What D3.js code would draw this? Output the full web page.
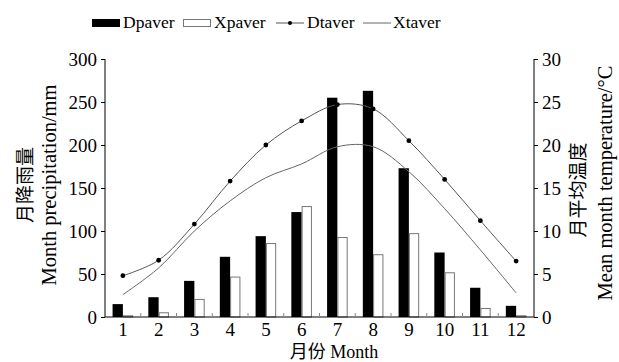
<!DOCTYPE html>
<html lang="zh">
<head>
  <meta charset="UTF-8" />
  <title>月降雨量与月平均温度</title>
  <script src="https://cdn.jsdelivr.net/npm/d3@7"></script>
  <style>
    html, body { margin: 0; padding: 0; background: #fff; }
    svg text { font-family: "Liberation Serif", "Noto Sans CJK SC", serif; fill: #000; }
  </style>
</head>
<body>
  <div id="chart"></div>
  <script>
    // data
    const months = ["1", "2", "3", "4", "5", "6", "7", "8", "9", "10", "11", "12"];
    const dpaver = [15, 23, 42, 70, 94, 122, 255, 263, 173, 75, 34, 13];
    const xpaver = [2, 5.5, 21, 47, 86, 129, 93, 73, 97.5, 52, 10.5, 2];
    const dtaver = [4.8, 6.6, 10.8, 15.8, 20.0, 22.8, 24.7, 24.2, 20.5, 16.0, 11.2, 6.5];
    const xtaver = [2.6, 5.7, 10.0, 13.5, 16.2, 17.8, 19.8, 19.8, 16.9, 12.6, 7.8, 2.8];
    const leftTicks = [0, 50, 100, 150, 200, 250, 300];
    const rightTicks = [0, 5, 10, 15, 20, 25, 30];

    const W = 619, H = 362;
    const margin = {top: 59, right: 85, bottom: 45, left: 105};
    const x0 = margin.left, x1 = W - margin.right;
    const yTop = margin.top, yBot = H - margin.bottom;

    const svg = d3.select("#chart").append("svg")
      .attr("width", W).attr("height", H);

    const x = d3.scaleBand().domain(months).range([x0, x1])
      .paddingInner(0.424).paddingOuter(0.212);
    const sub = d3.scaleBand().domain(["D", "X"]).range([0, x.bandwidth()]);
    const yL = d3.scaleLinear().domain([0, 300]).range([yBot, yTop]);
    const yR = d3.scaleLinear().domain([0, 30]).range([yBot, yTop]);
    const cx = m => x(m) + x.bandwidth() / 2;

    // bars
    svg.append("g").selectAll("rect")
      .data(months)
      .join("rect")
        .attr("x", m => x(m) + sub("D"))
        .attr("y", (m, i) => yL(dpaver[i]))
        .attr("width", sub.bandwidth())
        .attr("height", (m, i) => yBot - yL(dpaver[i]))
        .attr("fill", "#000");

    svg.append("g").selectAll("rect")
      .data(months)
      .join("rect")
        .attr("x", m => x(m) + sub("X") + 0.5)
        .attr("y", (m, i) => yL(xpaver[i]) + 0.5)
        .attr("width", sub.bandwidth() - 1)
        .attr("height", (m, i) => Math.max(0, yBot - yL(xpaver[i]) - 0.5))
        .attr("fill", "#fff")
        .attr("stroke", "#777")
        .attr("stroke-width", 1);

    // temperature lines
    const line = d3.line()
      .x((d, i) => cx(months[i]))
      .y(d => yR(d))
      .curve(d3.curveCatmullRom.alpha(0.5));

    svg.append("path").datum(xtaver)
      .attr("d", line).attr("fill", "none")
      .attr("stroke", "#666").attr("stroke-width", 1);

    svg.append("path").datum(dtaver)
      .attr("d", line).attr("fill", "none")
      .attr("stroke", "#555").attr("stroke-width", 1);

    svg.append("g").selectAll("circle")
      .data(dtaver)
      .join("circle")
        .attr("cx", (d, i) => cx(months[i]))
        .attr("cy", d => yR(d))
        .attr("r", 2.4)
        .attr("fill", "#000");

    // axes
    const axL = svg.append("g")
      .attr("transform", `translate(${x0},0)`)
      .call(d3.axisLeft(yL).tickValues(leftTicks).tickSize(4).tickPadding(4));
    const axR = svg.append("g")
      .attr("transform", `translate(${x1},0)`)
      .call(d3.axisRight(yR).tickValues(rightTicks).tickSize(4).tickPadding(4));
    [axL, axR].forEach(a => {
      a.select(".domain").attr("d", `M0,${yTop}V${yBot}`).attr("stroke", "#000");
      a.selectAll("text").style("font-size", "19px")
        .style("font-family", "'Liberation Serif', serif");
      a.selectAll(".tick line").attr("stroke", "#000");
    });

    const axB = svg.append("g")
      .attr("transform", `translate(0,${yBot})`)
      .call(d3.axisBottom(x).tickSize(0).tickPadding(6));
    axB.select(".domain").attr("d", `M${x0},0H${x1}`).attr("stroke", "#000");
    axB.selectAll("text").style("font-size", "19px")
      .style("font-family", "'Liberation Serif', serif");

    // small inner ticks at category boundaries
    svg.append("g").selectAll("line")
      .data(months.slice(0, -1))
      .join("line")
        .attr("x1", m => x(m) + x.bandwidth() + (x.step() - x.bandwidth()) / 2)
        .attr("x2", m => x(m) + x.bandwidth() + (x.step() - x.bandwidth()) / 2)
        .attr("y1", yBot)
        .attr("y2", yBot - 4)
        .attr("stroke", "#888");

    // axis titles
    svg.append("text")
      .attr("transform", "translate(32,185) rotate(-90)")
      .attr("text-anchor", "middle")
      .style("font-size", "19px")
      .text("月降雨量");
    svg.append("text")
      .attr("transform", "translate(56,185) rotate(-90)")
      .attr("text-anchor", "middle")
      .style("font-size", "20.5px")
      .text("Month precipitation/mm");
    svg.append("text")
      .attr("transform", "translate(585,190) rotate(-90)")
      .attr("text-anchor", "middle")
      .style("font-size", "19px")
      .text("月平均温度");
    svg.append("text")
      .attr("transform", "translate(612,183) rotate(-90)")
      .attr("text-anchor", "middle")
      .style("font-size", "20.5px")
      .text("Mean month temperature/°C");
    svg.append("text")
      .attr("x", 334).attr("y", 358)
      .attr("text-anchor", "middle")
      .style("font-size", "18px")
      .text("月份 Month");

    // legend
    const lg = svg.append("g").style("font-size", "17.5px");
    lg.append("rect").attr("x", 92).attr("y", 19).attr("width", 28).attr("height", 8).attr("fill", "#000");
    lg.append("text").attr("x", 123).attr("y", 28).text("Dpaver");
    lg.append("rect").attr("x", 183.5).attr("y", 19.5).attr("width", 27).attr("height", 7)
      .attr("fill", "#fff").attr("stroke", "#777");
    lg.append("text").attr("x", 214).attr("y", 28).text("Xpaver");
    lg.append("line").attr("x1", 276).attr("x2", 304).attr("y1", 23).attr("y2", 23).attr("stroke", "#555");
    lg.append("circle").attr("cx", 290).attr("cy", 23).attr("r", 2).attr("fill", "#000");
    lg.append("text").attr("x", 307).attr("y", 28).text("Dtaver");
    lg.append("line").attr("x1", 363).attr("x2", 391).attr("y1", 23).attr("y2", 23).attr("stroke", "#666");
    lg.append("text").attr("x", 393).attr("y", 28).text("Xtaver");
  </script>
</body>
</html>
